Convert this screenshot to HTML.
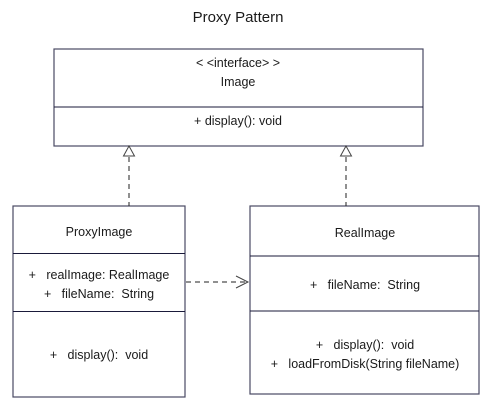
<!DOCTYPE html>
<html><head><style>
body{margin:0;background:#fff;}
svg text{font-family:"Liberation Sans",sans-serif;fill:#1a1a1a;white-space:pre;}
</style></head><body>
<svg width="487" height="407" viewBox="0 0 487 407" xmlns="http://www.w3.org/2000/svg" xml:space="preserve">
<text x="238" y="22" font-size="15" text-anchor="middle">Proxy Pattern</text>
<g fill="#fff" stroke="#4a4a63" stroke-width="1.2">
<rect x="54" y="49" width="369" height="97"/>
<rect x="13" y="206" width="172" height="191"/>
<rect x="250" y="206" width="229" height="188"/>
</g>
<g stroke="#1a1a3a" stroke-width="1">
<line x1="54" y1="107" x2="423" y2="107"/>
<line x1="13" y1="253.5" x2="185" y2="253.5"/>
<line x1="13" y1="311.5" x2="185" y2="311.5"/>
<line x1="250" y1="256" x2="479" y2="256"/>
<line x1="250" y1="311" x2="479" y2="311"/>
</g>
<g stroke="#222" stroke-width="1" fill="none" stroke-dasharray="5,4">
<line x1="129" y1="157" x2="129" y2="206"/>
<line x1="346" y1="157" x2="346" y2="206"/>
<line x1="186" y1="282" x2="247" y2="282"/>
</g>
<g stroke="#444" stroke-width="1" fill="#fff">
<polygon points="129,146 123.5,156 134.5,156"/>
<polygon points="346,146 340.5,156 351.5,156"/>
</g>
<polyline points="236,276 248,282 236,288" fill="none" stroke="#444" stroke-width="1"/>
<g font-size="12.5" text-anchor="middle">
<text x="238" y="67">&lt; &lt;interface&gt; &gt;</text>
<text x="238" y="86">Image</text>
<text x="238" y="125">+ display(): void</text>
<text x="99" y="236">ProxyImage</text>
<text x="365" y="237">RealImage</text>
<text x="99" y="279">+   realImage: RealImage</text>
<text x="99" y="298">+   fileName:  String</text>
<text x="99" y="359">+   display():  void</text>
<text x="365" y="289">+   fileName:  String</text>
<text x="365" y="349">+   display():  void</text>
<text x="365" y="368">+   loadFromDisk(String fileName)</text>
</g>
</svg>
</body></html>
